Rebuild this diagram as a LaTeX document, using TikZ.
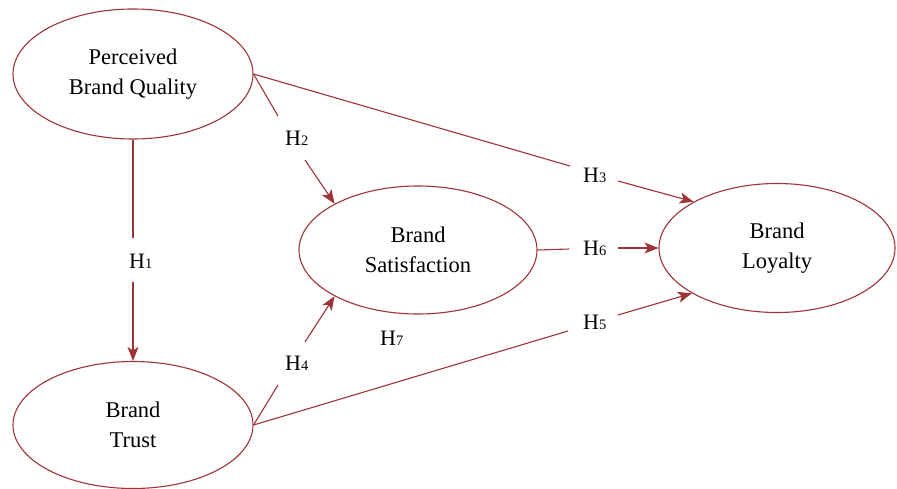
\documentclass[tikz,border=0pt]{standalone}
\usepackage{fontspec}
\setmainfont{Liberation Serif}
\usetikzlibrary{shapes.geometric,arrows.meta}
\definecolor{dred}{RGB}{158,52,56}
\newcommand{\hyp}[1]{H{\fontsize{14.5}{14.5}\selectfont #1}}
\begin{document}
\begin{tikzpicture}[x=1pt,y=-1pt,
  lat/.style={ellipse,draw=dred,line width=1.1pt,inner sep=0pt,align=center,
    font=\fontsize{22.5}{30.5}\selectfont},
  lab/.style={anchor=base west,inner sep=0pt,font=\fontsize{22}{22}\selectfont},
  conn/.style={draw=dred,line width=1.1pt},
  arr/.style={conn,-{Stealth[length=14pt,width=11pt,inset=3.5pt]},fill=dred}]
\useasboundingbox (0,0) rectangle (897,488);
\node[lat,minimum width=240,minimum height=130] (pbq) at (133,74) {Perceived\\Brand Quality};
\node[lat,minimum width=240,minimum height=127] (bt) at (133,425) {Brand\\Trust};
\node[lat,minimum width=238,minimum height=128] (sat) at (418,250) {Brand\\Satisfaction};
\node[lat,minimum width=236,minimum height=129] (loy) at (777,248) {Brand\\Loyalty};
% labels
\node[lab] (h1) at (129,268) {\hyp{1}};
\node[lab] (h2) at (285,145) {\hyp{2}};
\node[lab] (h3) at (583,182) {\hyp{3}};
\node[lab] (h4) at (285,370) {\hyp{4}};
\node[lab] (h5) at (583,329) {\hyp{5}};
\node[lab] (h6) at (583,255) {\hyp{6}};
\node[lab] (h7) at (380,345) {\hyp{7}};
% free ends
\coordinate (a1) at (133,238); \coordinate (b1) at (133,282);
\coordinate (a2) at (278,116); \coordinate (b2) at (305,160);
\coordinate (a3) at (570,166); \coordinate (b3) at (618,181);
\coordinate (a4) at (278,385); \coordinate (b4) at (305,342);
\coordinate (a5) at (568,331); \coordinate (b5) at (618,315);
\coordinate (a6) at (569,249); \coordinate (b6) at (618,248);
% connectors
\draw[conn] (pbq.south) -- (a1);
\draw[arr] (b1) -- (bt.north);
\draw[conn] (pbq.east) -- (a2);
\draw[arr] (b2) -- (sat.151);
\draw[conn] (pbq.east) -- (a3);
\draw[arr] (b3) -- (loy.151);
\draw[conn] (bt.east) -- (a4);
\draw[arr] (b4) -- (sat.209);
\draw[conn] (bt.east) -- (a5);
\draw[arr] (b5) -- (loy.208);
\draw[conn] (sat.east) -- (a6);
\draw[arr] (b6) -- (loy.west);
\end{tikzpicture}
\end{document}
